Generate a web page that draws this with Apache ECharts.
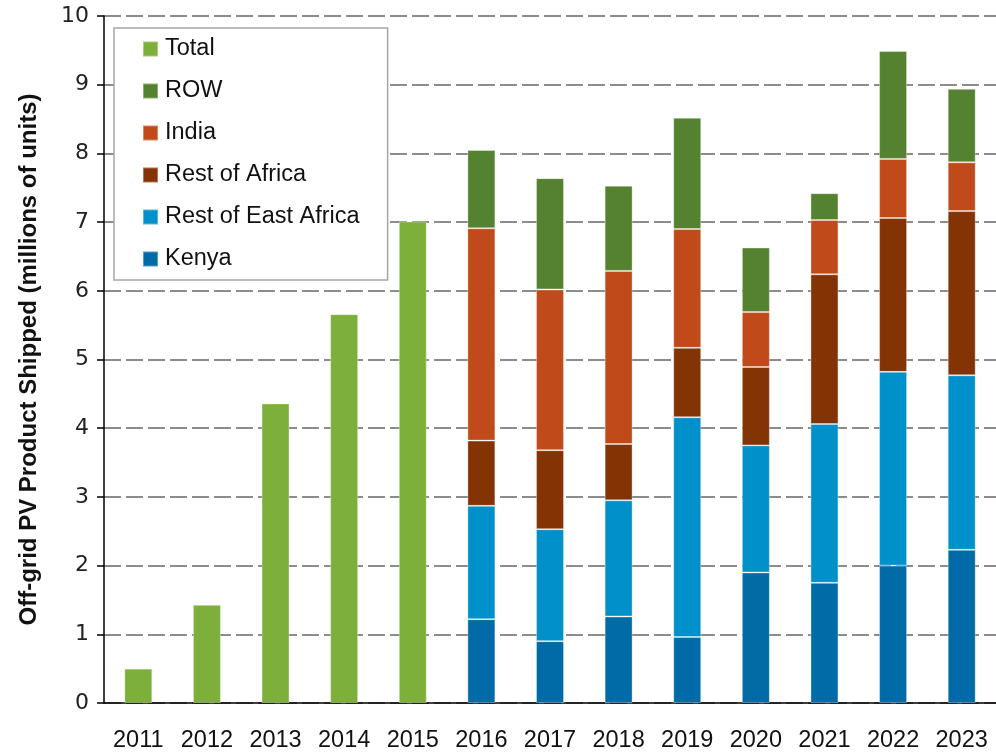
<!DOCTYPE html>
<html>
<head>
<meta charset="utf-8">
<script src="https://cdn.jsdelivr.net/npm/echarts@6/dist/echarts.min.js"></script>
<style>
  html, body { margin: 0; padding: 0; background: #fff; }
  #chart { width: 996px; height: 753px; }
</style>
</head>
<body>
<div id="chart"></div>
<script>
const years = ['2011', '2012', '2013', '2014', '2015', '2016', '2017', '2018', '2019', '2020', '2021', '2022', '2023']
const total = [0.5, 1.43, 4.36, 5.66, 7.01, null, null, null, null, null, null, null, null]
const kenya = [null, null, null, null, null, 1.22, 0.90, 1.26, 0.96, 1.90, 1.75, 2.00, 2.23]
const restEastAfrica = [null, null, null, null, null, 1.65, 1.63, 1.69, 3.20, 1.85, 2.31, 2.82, 2.54]
const restAfrica = [null, null, null, null, null, 0.95, 1.15, 0.82, 1.01, 1.14, 2.18, 2.24, 2.39]
const india = [null, null, null, null, null, 3.09, 2.34, 2.52, 1.73, 0.80, 0.79, 0.86, 0.71]
const row = [null, null, null, null, null, 1.14, 1.62, 1.24, 1.62, 0.94, 0.39, 1.57, 1.07]
const yTicks = [0, 1, 2, 3, 4, 5, 6, 7, 8, 9, 10]

const legendOrder = ['Total', 'ROW', 'India', 'Rest of Africa', 'Rest of East Africa', 'Kenya']

function bar (name, data, color) {
  return {
    name: name,
    type: 'bar',
    stack: 'all',
    barWidth: 28,
    data: data,
    itemStyle: { color: color, borderColor: 'rgba(255,255,255,0.35)', borderWidth: 1 }
  }
}

let myChart = echarts.init(document.getElementById('chart'))
myChart.setOption({
  animation: false,
  grid: { left: 104, top: 16, width: 901, height: 692 },
  legend: {
    orient: 'vertical',
    left: 114,
    top: 28,
    data: legendOrder,
    icon: 'rect',
    itemWidth: 15,
    itemHeight: 15,
    itemGap: 18,
    padding: [9, 28, 9, 28],
    borderColor: '#a6a6a6',
    borderWidth: 1.5,
    backgroundColor: '#fff',
    textStyle: { fontFamily: 'Liberation Sans', fontSize: 23.5, color: '#111', lineHeight: 23, padding: [0, 0, 0, 2] }
  },
  xAxis: {
    type: 'category',
    data: years,
    axisLine: { lineStyle: { color: '#000', width: 1.5 } },
    axisTick: { length: 8, lineStyle: { color: '#000', width: 1.5 } },
    axisLabel: { fontFamily: 'Liberation Sans', fontSize: 23.5, color: '#111', margin: 26 }
  },
  yAxis: {
    type: 'value',
    min: yTicks[0],
    max: yTicks[yTicks.length - 1],
    interval: 1,
    name: 'Off-grid PV Product Shipped (millions of units)',
    nameLocation: 'middle',
    nameGap: 63,
    nameTextStyle: { fontFamily: 'Liberation Sans', fontWeight: 'bold', fontSize: 24, color: '#111' },
    axisLine: { show: true, lineStyle: { color: '#000', width: 1.5 } },
    axisTick: { show: true, length: 7, lineStyle: { color: '#000', width: 1.5 } },
    axisLabel: { fontFamily: 'DejaVu Sans', fontSize: 22, color: '#222', margin: 15 },
    splitLine: { lineStyle: { color: '#8c8c8c', width: 2, type: [17, 5] } }
  },
  series: [
    bar('Total', total, '#7db03a'),
    bar('Kenya', kenya, '#006ba6'),
    bar('Rest of East Africa', restEastAfrica, '#0090ca'),
    bar('Rest of Africa', restAfrica, '#833304'),
    bar('India', india, '#c04a19'),
    bar('ROW', row, '#548230')
  ]
})
</script>
</body>
</html>
